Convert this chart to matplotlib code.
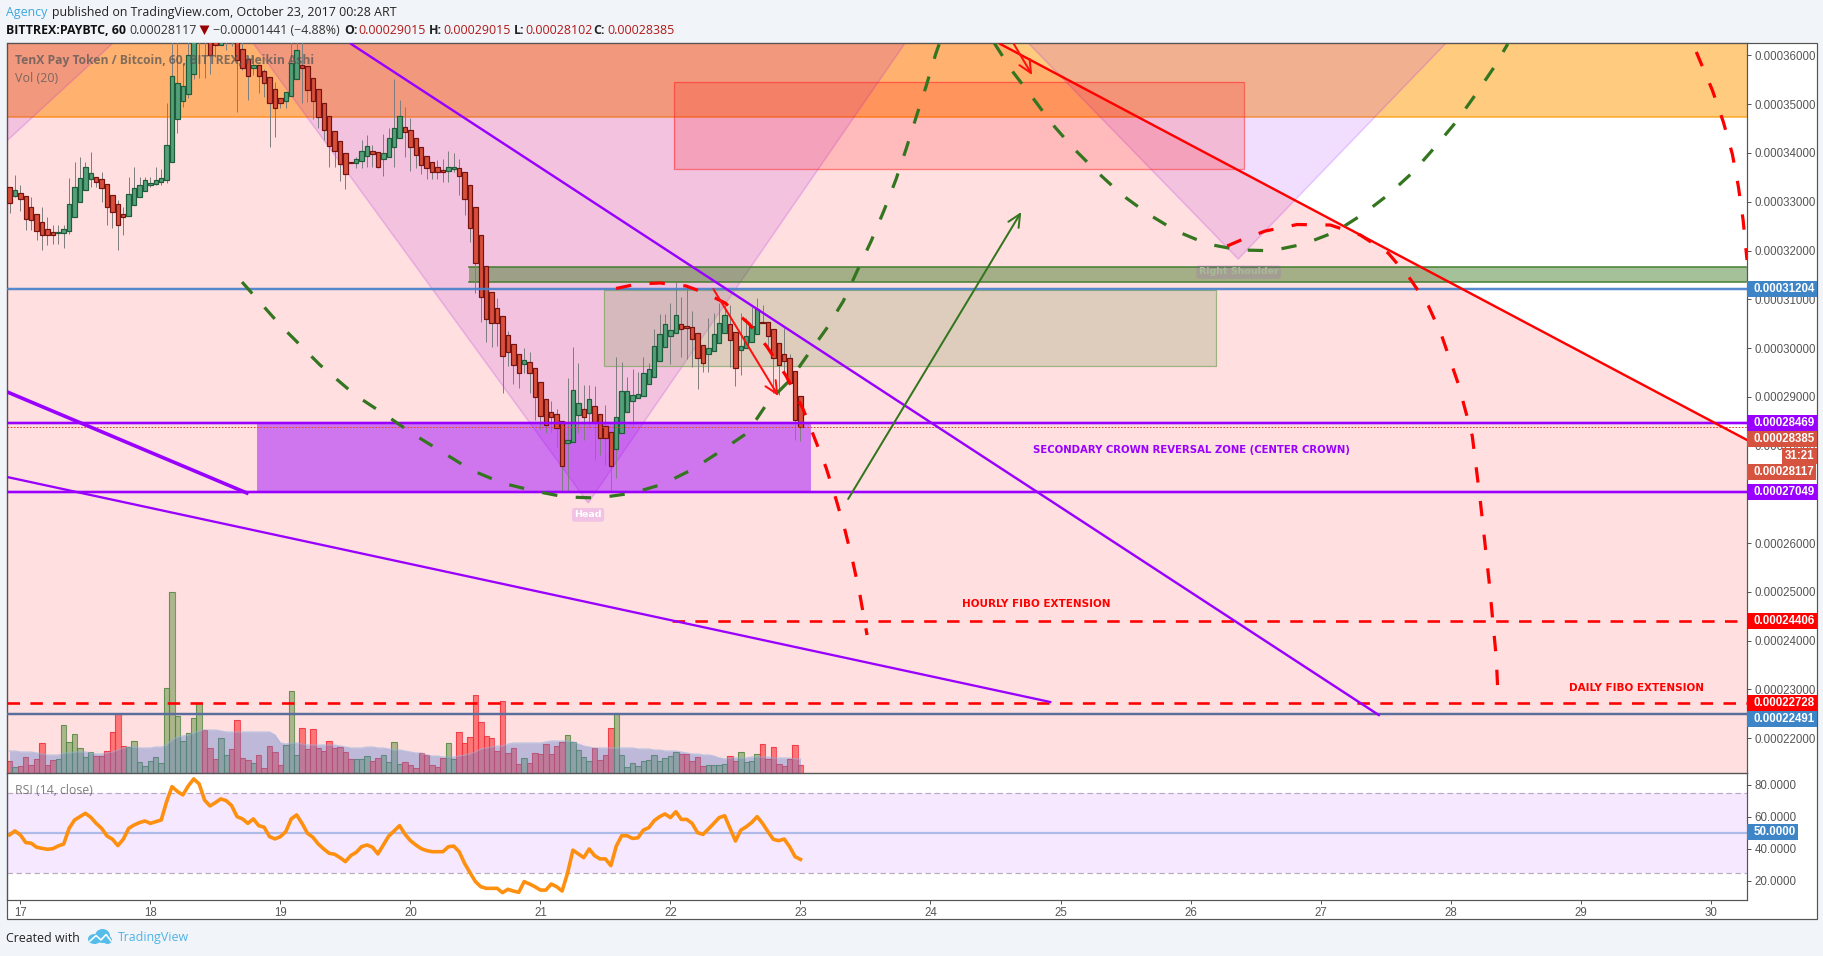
import matplotlib
matplotlib.use("Agg")
import matplotlib.pyplot as plt
from matplotlib.patches import Rectangle, Polygon, Ellipse
from matplotlib.ticker import FixedLocator, FuncFormatter

W, H = 1824, 956
PX = 0.72

# ---------- data (prices in 1e-8 BTC, hours from 16 Oct 22:00) ----------
body_top = [33296,33235,33186,33112,32886,32743,32579,32435,32374,32374,32435,32948,33296,33481,33707,33584,33514,33461,33358,33132,
 32948,32743,33153,33276,33338,33440,33379,33440,33481,34158,35573,35430,35368,36004,36500,36700,36600,36500,36500,36400,
 36450,36450,36300,36127,35934,35811,35799,35676,35565,35306,35122,35245,35840,36106,35799,35778,35532,35306,35019,34752,
 34445,34240,33994,33815,33871,34035,34137,34035,34014,33994,34301,34507,34752,34527,34466,34301,34117,33932,33809,33707,
 33645,33707,33707,33686,33604,33338,32893,32318,31682,31149,30821,30657,30267,30083,29878,29754,29713,29590,29303,28954,
 28688,28647,28504,28114,29139,28873,28749,28954,28811,28647,28401,28278,28585,29119,29119,29037,29057,29488,29570,30042,
 30288,30493,30370,30677,30493,30452,30431,30308,30062,30001,30288,30513,30677,30493,30329,30042,30247,30452,30800,30534,
 30534,30390,30103,29878,29795,29529,29015]
body_bottom = [32981,33124,33050,32640,32620,32394,32312,32312,32312,32353,32353,32394,32681,32989,33235,33461,33399,33276,32886,32784,
 32517,32681,32702,32927,33092,33215,33338,33358,33399,33440,33809,34691,35060,35204,35614,36300,36350,36016,36209,36209,
 36300,36300,35907,35749,35573,35749,35573,35442,35032,34917,35019,35060,35163,35512,35749,35286,35072,34732,34478,34137,
 34035,33768,33563,33790,33789,33830,33932,33973,33707,33871,33924,34117,34301,34425,34117,33953,33748,33686,33604,33604,
 33604,33625,33666,33522,33063,32456,31744,31046,30595,30513,30513,29836,29919,29652,29488,29672,29488,28996,28606,28421,
 28585,28360,27580,28052,28073,28626,28585,28667,28483,28155,28155,27580,27929,28257,28688,28914,28975,29016,29262,29406,
 29734,30021,30247,30308,30390,30411,30185,29795,29693,29878,29939,30103,30308,30165,29590,29960,30001,30124,30288,30510,
 30247,29795,29652,29734,29282,28524,28385]
wick_high = [33296,33549,33344,33112,33092,32743,32886,32681,32517,32517,32517,33481,33809,33912,33809,34014,33514,33604,33358,33132,
 33036,32886,33502,33707,33502,33502,33502,33707,33666,35019,36500,36500,35840,36700,36800,37000,36900,36700,36700,36700,
 36600,36600,36500,36300,36000,36010,35799,35717,35565,35462,35122,35245,36500,36500,36500,35778,35532,35306,35019,34752,
 34445,34240,33994,33815,33924,34267,34369,34164,34014,34390,34507,35512,35087,34937,34712,34301,34117,33932,33809,33856,
 33871,34035,33994,33877,33604,33338,32893,32318,31682,31149,31026,30657,30349,30083,29878,30001,29919,29590,29303,28954,
 28914,28749,28504,29385,30021,29693,29242,29242,29221,28647,28832,28278,29816,29713,29406,29570,29508,29816,29693,30390,
 30698,30698,30923,31354,31046,31292,30759,30308,30062,30616,30718,30923,30882,30882,30329,30718,30616,30841,31026,30882,
 30534,30390,30103,30411,29878,29529,29015]
wick_low = [32776,33103,32817,32421,32421,32216,32017,32113,32134,32134,32058,32333,32681,32989,33235,33296,33296,33001,32523,32456,
 32017,32318,32702,32927,33092,33215,33296,33344,33338,33379,33809,34404,34950,35122,35512,35532,35532,35620,35975,36209,
 36113,36200,34847,35700,35087,35600,35224,35155,34129,34334,34929,34917,35163,35512,35032,35052,34691,34507,34267,33719,
 33719,33432,33268,33790,33686,33686,33719,33719,33686,33535,33924,33707,34301,33924,33637,33699,33569,33467,33467,33467,
 33412,33412,33620,33139,32728,32181,31128,30534,30124,30021,30042,29078,29631,29262,29180,29488,29078,28524,28339,28257,
 28278,27970,27047,27068,28073,28257,28114,28380,27703,27806,27600,27047,27334,28257,28688,28380,28975,29016,29262,29406,
 29734,30021,29672,30308,29816,29775,29611,29160,29508,29508,29939,30103,30308,29611,29221,29447,30001,30124,30288,30510,
 29980,29078,29037,29500,29282,28114,28102]
candle_color = ("r"+"g"+"r"*7+"g"*7+"r"*6+"g"*15+"r"*2+"g"*3+"r"*3+"g"+"r"*5+"g"*3+"r"*10+"g"*3+"r"*2+"g"*4+"r"*8+"g"*2
                +"r"*12+"g"+"r"*7+"g"*3+"r"+"g"+"r"*4+"g"*12+"r"*5+"g"*4+"r"*2+"g"*4+"r"*8)

volume = [12,6,7,16,8,14,30,8,13,14,48,31,39,25,16,21,17,17,22,41,59,27,26,32,11,7,12,16,10,85,181,57,32,40,55,70,43,25,14,35,18,24,53,15,13,10,18,5,27,21,8,28,82,18,
 45,24,44,25,22,32,25,26,21,14,14,14,17,12,15,18,11,31,9,11,8,5,20,18,8,6,15,30,14,41,30,36,78,51,37,35,22,72,20,25,9,15,10,20,19,29,19,27,31,38,31,23,16,12,25,13,18,45,
 60,18,6,10,7,12,13,18,12,15,17,21,19,19,12,16,7,8,8,8,9,17,12,21,11,12,19,29,14,26,9,7,14,28,8]
volume_color = ("r"+"g"+"r"*7+"g"*7+"r"*6+"g"*14+"r"*3+"g"*2+"r"*4+"g"+"r"*5+"g"*3+"r"*10+"g"*3+"r"*2+"g"*4+"r"*8+"g"*2
                +"r"*12+"g"+"r"*7+"g"*5+"r"*4+"g"*12+"r"*5+"g"*4+"r"*2+"g"*4+"r"*8)
volume_ma = [22,22,21,21,21,20,19,18,18,18,20,20,21,21,21,20,19,19,20,21,23,25,26,26,25,25,25,26,26,28,33,36,37,38,40,42,43,43,43,42,41,41,41,41,41,41,41,41,41,38,30,29,30,30,
 29,28,28,28,28,28,28,27,26,25,25,25,26,26,25,25,24,23,23,22,21,20,20,18,17,17,16,16,16,17,18,19,21,24,25,26,27,27,29,30,30,30,30,30,30,31,32,32,32,32,31,29,27,26,25,25,25,
 25,25,25,25,25,24,24,24,23,23,22,22,22,21,20,19,19,18,18,17,15,14,15,15,15,15,16,16,16,16,15,15,15,15,14,14]
rsi = [48.8,51.3,48.8,44,43.6,41.1,40.4,39.8,40.2,41.9,43.1,52.9,58.1,60.2,62.3,59.8,56,52.9,48.1,46.1,42.1,46.1,52.9,55,56.5,57.5,56,57.1,58.1,69.6,79,75.9,73.8,79.4,83.8,80.7,70.6,
 66.9,69,71.3,70.2,67.1,60.2,58.8,56,58.8,54.6,53.6,47.7,46.3,47.7,50.9,58.8,61.3,56,49.8,47.3,43.1,40,37.3,36.7,34.6,32.1,35.9,37.9,41.5,42.5,41.1,36.9,42.5,48.1,51.3,54.6,49.2,45.2,42.5,
 40.2,39,38.3,38.3,38.3,41.4,41.8,38.3,31,25.2,19.6,16.4,15.4,15.4,15.4,12.7,14.8,13.7,12.9,19.6,18.1,16.4,14.3,14.3,18.1,16.4,13.7,24.8,39.3,36.9,34.6,40,35.8,33.8,33.8,29.6,41.8,48.3,48.3,
 46.6,47,51.8,53.3,57.7,60.2,61.9,59.6,63.3,58.5,58.5,56,50.2,49.1,52.5,56,59.6,60.8,52.9,45,51.8,53.9,56.6,60.2,56,50.8,46,45.2,46.2,41.4,35.2,33.5]
first_hour = -2
assert len(body_top)==len(body_bottom)==len(wick_high)==len(wick_low)==len(candle_color)==147
assert len(volume)==len(volume_color)==len(volume_ma)==len(rsi)==147
days = [17 + (first_hour + i) / 24 for i in range(147)]

price_ticks = list(range(22000, 36001, 1000))
day_ticks = list(range(17, 31))
rsi_ticks = [20, 40, 60, 80]
LV_UPPER, LV_LOWER, LV_HOURLY, LV_DAILY, LV_RES, LV_SUP, LV_LAST = 28469, 27049, 24406, 22728, 31204, 22491, 28385

# drawings in (day, price)
red_curve_1 = [(21.582,31221),(21.744,31313),(21.921,31334),(22.12,31272),(22.267,31129),(22.421,30923),(22.606,30493),(22.744,30021),(22.89,29426),(23.02,28749),(23.105,28175),(23.198,27539),(23.275,26883),(23.344,26247),(23.405,25591),(23.459,24914),(23.512,24114)]
red_curve_2 = [(26.282,32093),(26.39,32216),(26.575,32400),(26.82,32533),(27.075,32523),(27.305,32318),(27.52,31949),(27.69,31416),(27.83,30862),(27.93,30267),(28.06,29262),(28.167,28196),(28.228,26883),(28.297,25201),(28.351,23663),(28.367,22781)]
red_curve_3 = [(29.89,36072),(30.013,35292),(30.098,34636),(30.167,33980),(30.213,33323),(30.25,32626),(30.28,31805)]
green_curve_1 = [(18.705,31354),(18.998,30472),(19.305,29652),(19.575,29036),(19.82,28606),(20.02,28237),(20.245,27867),(20.467,27498),(20.705,27232),(20.952,27068),(21.19,26945),(21.444,26924),(21.713,27027),(21.944,27211),(22.175,27519),(22.398,27908),(22.59,28257),(22.751,28893),(22.92,29344),(23.06,29877),(23.198,30390),(23.33,30965),(23.436,31580),(23.544,32195),(23.644,32831),(23.736,33467),(23.815,34102),(23.89,34738),(23.967,35374),(24.04,36030),(24.07,36256)]
green_curve_2 = [(24.49,36256),(24.628,35682),(24.782,35149),(24.936,34595),(25.105,34082),(25.282,33610),(25.474,33139),(25.674,32749),(25.89,32400),(26.128,32134),(26.374,32011),(26.627,31996),(26.874,32134),(27.112,32380),(27.328,32749),(27.528,33159),(27.712,33610),(27.881,34123),(28.042,34636),(28.19,35190),(28.336,35764),(28.44,36236)]

XMIN, XMAX = 16.895, 30.28
YMIN, YMAX = 21284, 36256

plt.rcParams['font.family'] = ['Open Sans', 'DejaVu Sans']
fig = plt.figure(figsize=(W/100, H/100), dpi=100, facecolor='#F1F4F8')

def pos(x0, y0, x1, y1):
    return [x0/W, 1-y1/H, (x1-x0)/W, (y1-y0)/H]

def px_axes(z):
    a = fig.add_axes([0, 0, 1, 1], zorder=z)
    a.set_xlim(0, W); a.set_ylim(H, 0); a.axis('off'); a.patch.set_visible(False)
    return a

chrome = px_axes(0)
chrome.add_patch(Rectangle((6.7, 43), 1810.3, 876, fc='white', ec='#555555', lw=1.2*PX))

PANE = pos(6.7, 43, 1747, 773)
ax_bg = fig.add_axes(PANE, zorder=1); ax_bg.axis('off')
ax_vol = fig.add_axes(PANE, zorder=2); ax_vol.axis('off')
ax = fig.add_axes(PANE, zorder=3); ax.patch.set_visible(False)
for a in (ax_bg, ax_vol, ax):
    a.set_xlim(XMIN, XMAX)
ax_bg.set_ylim(YMIN, YMAX); ax.set_ylim(YMIN, YMAX); ax_vol.set_ylim(0, 730)

# background shapes
ORANGE = '#FF9800'; PURPLE = '#9900FF'
ax_bg.axhspan(34730, YMAX, fc=ORANGE, alpha=0.5, lw=0, zorder=1)
ax_bg.plot([XMIN, XMAX], [34730, 34730], color=ORANGE, lw=1.5*PX, alpha=.8, zorder=1.1)
for verts in ([(XMIN,34246),(17.713,36256),(XMIN,36256)],
              [(18.79,36256),(21.367,26822),(23.805,36256)],
              [(24.752,36256),(26.367,31826),(27.966,36256)]):
    ax_bg.add_patch(Polygon(verts, fc=PURPLE, alpha=0.13, ec='none', zorder=2))
    ax_bg.add_patch(Polygon(verts, fc='none', ec=PURPLE, alpha=0.18, lw=1.5*PX, zorder=2))
ax_bg.add_patch(Polygon([(XMIN,YMAX),(24.5,YMAX),(XMAX,28114),(XMAX,YMIN),(XMIN,YMIN)], fc='#FF0000', alpha=0.125, ec='none', zorder=3))
ax_bg.add_patch(Rectangle((22.025,33672), 26.41-22.025, 35456-33672, fc='#FF0000', alpha=0.16, ec='none', zorder=4))
ax_bg.add_patch(Rectangle((22.025,33672), 26.41-22.025, 35456-33672, fc='none', ec='#FF3333', alpha=0.6, lw=1.3*PX, zorder=4))
ax_bg.add_patch(Rectangle((18.82,LV_LOWER), 23.08-18.82, LV_UPPER-LV_LOWER, fc=PURPLE, alpha=0.47, ec='none', zorder=4))
ax_bg.add_patch(Rectangle((21.49,29631), 26.195-21.49, 31190-29631, fc=(147/255,166/255,113/255), alpha=0.3, ec='none', zorder=4))
ax_bg.add_patch(Rectangle((21.49,29631), 26.195-21.49, 31190-29631, fc='none', ec='#8CAA6E', alpha=.85, lw=1.2*PX, zorder=4))
ax_bg.add_patch(Rectangle((20.452,31344), XMAX-20.452, 31662-31344, fc='#38761D', alpha=0.45, ec='none', zorder=4))
for lv in (31344, 31662):
    ax_bg.plot([20.452, 30.27], [lv, lv], color='#3D7A2A', lw=1.6*PX, alpha=.9, zorder=4.2)

# volume
vc = {'r': ('#FF0000', '#F03040'), 'g': ('#4E8A2E', '#4F8740')}
ax_vol.bar(days, volume, width=1/24, color=[vc[c][0] for c in volume_color], alpha=0.47, lw=0, zorder=2)
ax_vol.bar(days, volume, width=1/24, color='none', edgecolor=[vc[c][1] for c in volume_color], lw=1.1*PX, alpha=.8, zorder=2.1)
ax_vol.fill_between(days, volume_ma, 0, color='#6080D0', alpha=0.4, lw=0, zorder=3)
ax_vol.plot(days, volume_ma, color='#90B0E0', alpha=.55, lw=1.3*PX, zorder=3.1)

# candles
ax.vlines(days, wick_low, wick_high, color='#7F7F7F', lw=1*PX, zorder=3)
cs = {'r': ('#D8503B', '#741310'), 'g': ('#54A07A', '#1E5C3A')}
ax.bar(days, [max(t-b, 8) for t, b in zip(body_top, body_bottom)], bottom=body_bottom, width=0.034,
       color=[cs[c][0] for c in candle_color], edgecolor=[cs[c][1] for c in candle_color], lw=1.2*PX, zorder=3.2)

# horizontal lines
def hline(v, c, w=2, halo=None, x0=XMIN, x1=XMAX, z=4):
    if halo:
        ax.plot([x0, x1], [v, v], color=c, lw=halo*PX, alpha=.3, zorder=z-.1, solid_capstyle='butt')
    ax.plot([x0, x1], [v, v], color=c, lw=w*PX, zorder=z, solid_capstyle='butt')
hline(LV_RES, '#4A82CC', 1.8, 3.5)
hline(LV_UPPER, PURPLE, 2, 4)
hline(LV_LOWER, PURPLE, 2, 4)
hline(LV_SUP, '#5A6E9E', 2, 3.5)
ax.plot([XMIN, XMAX], [LV_LAST, LV_LAST], color='#E8402A', lw=1*PX, ls=(0, (1.6, 1.6)), zorder=4)
DASH_H = (0, (4.8, 4.0))
ax.plot([22.01, XMAX], [LV_HOURLY]*2, color='#FF0000', lw=2.6*PX, ls=DASH_H, zorder=4, dash_capstyle='butt')
ax.plot([XMIN, XMAX], [LV_DAILY]*2, color='#FF0000', lw=2.6*PX, ls=DASH_H, zorder=4, dash_capstyle='butt')

# trend lines
ax.plot([19.544, 27.448], [36236, 22473], color=PURPLE, lw=2.4*PX, zorder=5)
ax.plot([16.9, 18.742], [29098, 27027], color=PURPLE, lw=3.6*PX, zorder=5)
ax.plot([16.898, 24.921], [27355, 22740], color=PURPLE, lw=2.3*PX, zorder=5)
ax.plot([24.536, 30.28], [36236, 28114], color='#FF0000', lw=2.4*PX, zorder=5)

# dashed arcs
DASH = (0, (4.8, 5.8))
for crv, col in ((green_curve_1, '#33761F'), (green_curve_2, '#33761F'),
                 (red_curve_1, '#FF0000'), (red_curve_2, '#FF0000'), (red_curve_3, '#FF0000')):
    ax.plot([p[0] for p in crv], [p[1] for p in crv], color=col, lw=3.2*PX, ls=DASH, dash_capstyle='butt', zorder=5.5)

# arrows
for (a0, a1, col) in (((22.33,31211),(22.83,29016),'#FF1010'), ((24.641,36236),(24.782,35600),'#FF1010'), ((23.367,26904),(24.698,32790),'#33761F')):
    ax.annotate('', xy=a1, xytext=a0, zorder=6,
                arrowprops=dict(arrowstyle='->,head_length=0.7,head_width=0.33', color=col, lw=2*PX, shrinkA=0, shrinkB=0, mutation_scale=13))

# pattern labels
TXT = dict(family=['DejaVu Sans'], fontweight='bold', ha='center', va='center', zorder=7)
ax.text(21.367, 26579, 'Head', color='white', fontsize=6.8, bbox=dict(boxstyle='round,pad=0.25', fc=PURPLE, alpha=.13, ec='none'), **TXT)
ax.text(26.37, 31560, 'Right Shoulder', color='#A9BA96', fontsize=6.8, bbox=dict(boxstyle='round,pad=0.25', fc=PURPLE, alpha=.10, ec='none'), **TXT)
ax.text(26.005, 27908, 'SECONDARY CROWN REVERSAL ZONE (CENTER CROWN)', color=PURPLE, fontsize=7.3, **TXT)
ax.text(24.81, 24750, 'HOURLY FIBO EXTENSION', color='#FF0000', fontsize=7.45, **TXT)
ax.text(29.43, 23028, 'DAILY FIBO EXTENSION', color='#FF0000', fontsize=7.45, **TXT)

# price axis
ax.set_xticks([])
ax.yaxis.tick_right()
ax.yaxis.set_major_locator(FixedLocator(price_ticks))
ax.yaxis.set_major_formatter(FuncFormatter(lambda v, _: f"{v*1e-8:.8f}"))
ax.tick_params(axis='y', length=4*PX, width=1*PX, color='#555555', labelcolor='#555555', labelsize=8.3, pad=3.5*PX)
for lab in ax.get_yticklabels():
    lab.set_family(['Liberation Sans'])
for s in ax.spines.values():
    s.set_color('#555555'); s.set_linewidth(1.2*PX)

# RSI
ax_r = fig.add_axes(pos(6.7, 773, 1747, 900), zorder=3); ax_r.patch.set_visible(False)
ax_r.set_xlim(XMIN, XMAX); ax_r.set_ylim(8.1, 87.5)
ax_r.axhspan(25, 75, fc=PURPLE, alpha=0.09, lw=0)
for lv in (25, 75):
    ax_r.axhline(lv, color='#B8A8C0', lw=1.2*PX, ls=(0, (4.5, 3)))
ax_r.axhline(50, color='#AEBBE8', lw=2.2*PX)
ax_r.plot(days, rsi, color='#FF8F0F', lw=3.6*PX, solid_joinstyle='round')
ax_r.yaxis.tick_right()
ax_r.yaxis.set_major_locator(FixedLocator(rsi_ticks))
ax_r.yaxis.set_major_formatter(FuncFormatter(lambda v, _: f"{v:.4f}"))
ax_r.xaxis.set_major_locator(FixedLocator(day_ticks))
ax_r.xaxis.set_major_formatter(FuncFormatter(lambda v, _: f"{int(v)}"))
ax_r.tick_params(axis='both', length=4*PX, width=1*PX, color='#555555', labelcolor='#555555', labelsize=8.3, pad=3.5*PX)
for lab in ax_r.get_yticklabels() + ax_r.get_xticklabels():
    lab.set_family(['Liberation Sans'])
for s in ax_r.spines.values():
    s.set_color('#555555'); s.set_linewidth(1.2*PX)

# foreground: header, labels, footer
fg = px_axes(10)
def label(yc, txt, col, x1=1817, h=16):
    fg.add_patch(Rectangle((1747.5, yc-h/2), x1-1747.5, h, fc=col, ec='none', zorder=2))
    fg.text(1754, yc+.3, txt, color='white', fontsize=8.3, fontweight='bold', family=['Liberation Sans'], va='center', ha='left', zorder=3)
BLUE, RED_L = '#3D85C6', '#D5533F'
label(289, '0.00031204', BLUE)
label(422.7, '0.00028469', PURPLE)
label(439, '0.00028385', RED_L)
fg.add_patch(Rectangle((1782, 448), 35, 15.5, fc=RED_L, ec='none', zorder=2))
fg.text(1799.5, 456, '31:21', color='white', fontsize=8.3, fontweight='bold', family=['Liberation Sans'], va='center', ha='center', zorder=3)
label(472, '0.00028117', RED_L, x1=1816)
label(492, '0.00027049', PURPLE)
label(620.7, '0.00024406', '#FF0000')
label(702.7, '0.00022728', '#FF0000')
label(719, '0.00022491', BLUE)
label(832, '50.0000', BLUE, x1=1798)

HDR = dict(fontsize=8.9, va='center', ha='left')
fg.text(6, 12, 'Agency', color='#3BA7E0', **HDR)
fg.text(52, 12, 'published on TradingView.com, October 23, 2017 00:28 ART', color='#222222', **HDR)
fg.text(6, 30, 'BITTREX:PAYBTC, 60', color='#111111', fontweight='bold', **HDR)
fg.text(129, 30, '0.00028117', color='#333333', **HDR)
fg.add_patch(Polygon([(199.5, 25.5), (209.5, 25.5), (204.5, 35)], fc='#990000', ec='none'))
fg.text(213, 30, '\u22120.00001441 (\u22124.88%)', color='#333333', **HDR)
for x, k, v in ((344, 'O:', '0.00029015'), (429, 'H:', '0.00029015'), (514, 'L:', '0.00028102'), (593, 'C:', '0.00028385')):
    fg.text(x, 30, k, color='#222222', fontweight='bold', **HDR)
    fg.text(x+(14 if k != 'L:' else 11), 30, v, color='#B01818', **HDR)

LEG = dict(color='#555555', alpha=.75, va='center', ha='left')
fg.text(15, 60.5, 'TenX Pay Token / Bitcoin, 60, BITTREX, Heikin Ashi', fontsize=8.75, fontweight='bold', **LEG)
fg.text(15, 78, 'Vol (20)', fontsize=9, **LEG)
fg.text(15, 790, 'RSI (14, close)', fontsize=8.8, **LEG)

fg.text(6, 938, 'Created with', color='#222222', **HDR)
fg.text(118, 938, 'TradingView', color='#4FB3E8', **HDR)
for cx, cy, w, h in ((94.5, 939, 13, 10), (102.5, 936, 15, 14), (107.5, 940, 9, 8)):
    fg.add_patch(Ellipse((cx, cy), w, h, fc='#55BDEA', ec='none'))
fg.plot([90, 96, 101, 106, 111], [941, 935.5, 940, 934.5, 941], color='white', lw=1.6*PX)

fig.savefig('out.png', dpi=100, facecolor=fig.get_facecolor())
